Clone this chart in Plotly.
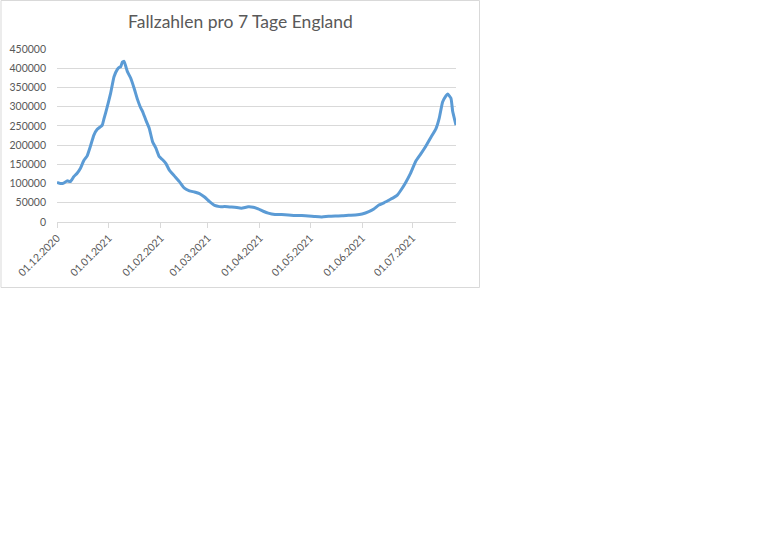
import plotly.graph_objects as go

# 7-Tage-Fallzahlen England
dates = [
    "2020-12-01", "2020-12-03", "2020-12-05", "2020-12-07", "2020-12-09",
    "2020-12-11", "2020-12-13", "2020-12-15", "2020-12-17", "2020-12-19",
    "2020-12-21", "2020-12-23", "2020-12-25", "2020-12-27", "2020-12-28",
    "2020-12-29", "2020-12-31", "2021-01-02", "2021-01-04", "2021-01-06",
    "2021-01-07", "2021-01-08", "2021-01-09", "2021-01-10", "2021-01-11",
    "2021-01-12", "2021-01-14", "2021-01-16", "2021-01-18", "2021-01-20",
    "2021-01-21", "2021-01-23", "2021-01-25", "2021-01-27", "2021-01-29",
    "2021-01-31", "2021-02-02", "2021-02-04", "2021-02-06", "2021-02-09",
    "2021-02-12", "2021-02-15", "2021-02-18", "2021-02-21", "2021-02-24",
    "2021-02-27", "2021-03-02", "2021-03-05", "2021-03-08", "2021-03-11",
    "2021-03-14", "2021-03-17", "2021-03-21", "2021-03-25", "2021-03-28",
    "2021-03-31", "2021-04-03", "2021-04-06", "2021-04-10", "2021-04-14",
    "2021-04-18", "2021-04-22", "2021-04-26", "2021-04-30", "2021-05-04",
    "2021-05-08", "2021-05-12", "2021-05-16", "2021-05-20", "2021-05-24",
    "2021-05-28", "2021-06-01", "2021-06-05", "2021-06-08", "2021-06-11",
    "2021-06-14", "2021-06-17", "2021-06-20", "2021-06-22", "2021-06-24",
    "2021-06-27", "2021-06-30", "2021-07-03", "2021-07-06", "2021-07-09",
    "2021-07-12", "2021-07-15", "2021-07-17", "2021-07-19", "2021-07-21",
    "2021-07-22", "2021-07-24", "2021-07-25", "2021-07-27",
]
cases = [
    103000, 100000, 101000, 107000, 105000,
    118000, 127000, 140000, 160000, 172000,
    198000, 226000, 241000, 248000, 252000,
    268000, 300000, 335000, 378000, 397000,
    402000, 404000, 416000, 418000, 405000,
    391000, 374000, 348000, 319000, 296000,
    288000, 265000, 244000, 209000, 192000,
    170000, 162000, 152000, 135000, 120000,
    105000, 88000, 81000, 78000, 74000,
    65000, 53000, 43000, 40000, 40000,
    39000, 38500, 36000, 39500, 38500,
    34000, 28000, 23000, 19500, 19300,
    18400, 16800, 16700, 15800, 14000,
    13000, 15000, 15800, 16000, 17500,
    18500, 21000, 27000, 34000, 44000,
    50000, 57000, 64000, 70000, 82000,
    103000, 128000, 158000, 177000, 197000,
    220000, 242000, 270000, 312000, 328000,
    333000, 322000, 288000, 252000,
]

tick_dates = ["2020-12-01", "2021-01-01", "2021-02-01", "2021-03-01",
              "2021-04-01", "2021-05-01", "2021-06-01", "2021-07-01"]
tick_labels = ["01.12.2020", "01.01.2021", "01.02.2021", "01.03.2021",
               "01.04.2021", "01.05.2021", "01.06.2021", "01.07.2021"]
y_ticks = [0, 50000, 100000, 150000, 200000, 250000, 300000, 350000, 400000, 450000]

W, H = 768, 553
# plot area in pixels
L, R, T, B = 57, 456, 49, 222

fig = go.Figure()
fig.add_trace(go.Scatter(
    x=dates, y=cases, mode="lines",
    line=dict(color="#5B9BD5", width=3, shape="spline", smoothing=0.4),
    hoverinfo="x+y",
))

def px_x(p):
    return (p - L) / (R - L)

def px_y(p):
    return (B - p) / (B - T)

# outer chart border
fig.add_shape(type="rect", xref="paper", yref="paper",
              x0=px_x(1), x1=px_x(479.5), y0=px_y(287.5), y1=px_y(0.5),
              line=dict(color="#D9D9D9", width=1), layer="below")

fig.update_layout(
    width=W, height=H,
    margin=dict(l=L, r=W - R, t=T, b=H - B, pad=0, autoexpand=False),
    paper_bgcolor="white", plot_bgcolor="white",
    showlegend=False,
    font=dict(family="Lato, Calibri, sans-serif", color="#595959", size=10.5),
    title=dict(text="Fallzahlen pro 7 Tage England", x=px_x(240.5), xref="paper",
               xanchor="center", y=1 - 22 / H, yanchor="middle",
               font=dict(size=17.5, color="#595959")),
)
fig.update_xaxes(
    type="date", range=["2020-12-01", "2021-07-27"],
    tickvals=tick_dates, ticktext=tick_labels, tickangle=-45,
    ticks="outside", ticklen=5, tickcolor="#D9D9D9",
    showgrid=False, showline=True, linecolor="#D9D9D9", linewidth=1,
    zeroline=False, automargin=False,
)
fig.update_yaxes(
    range=[0, 450000], tickvals=y_ticks, tickformat="d",
    showgrid=True, gridcolor="#D9D9D9", gridwidth=1,
    zeroline=False, showline=False, ticks="", ticklabelstandoff=10,
    automargin=False,
)

# remove the default page margin so the chart sits at the top-left corner
fig.write_html("out.html", config={"displayModeBar": False},
               post_script="document.body.style.margin='0';")
